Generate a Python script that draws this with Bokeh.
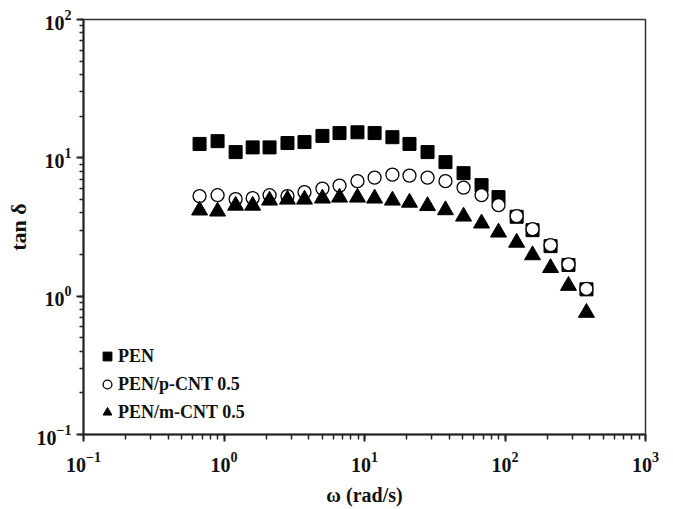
from bokeh.plotting import figure
from bokeh.models import Legend, LegendItem
from bokeh.embed import file_html
from bokeh.resources import INLINE

# angular frequency (rad/s)
omega = [0.67, 0.90, 1.21, 1.60, 2.11, 2.83, 3.74, 5.02, 6.64, 8.91, 11.8, 15.8,
         20.9, 28.1, 37.7, 50.7, 68.1, 89.9, 121, 157, 211, 283, 380]
# tan delta
pen = [12.6, 13.2, 11.0, 11.9, 11.9, 12.8, 13.0, 14.4, 15.1, 15.3, 15.1, 14.1,
       12.6, 11.0, 9.31, 7.75, 6.35, 5.20, 3.75, 3.00, 2.30, 1.68, 1.12]
pcnt = [5.29, 5.37, 5.03, 5.11, 5.37, 5.29, 5.65, 5.99, 6.30, 6.78, 7.19, 7.56,
        7.43, 7.19, 6.78, 6.09, 5.37, 4.55, 3.79, 3.05, 2.34, 1.70, 1.13]
mcnt = [4.17, 4.10, 4.52, 4.52, 4.92, 5.00, 5.00, 5.09, 5.17, 5.17, 5.09, 4.92,
        4.75, 4.49, 4.19, 3.77, 3.36, 2.89, 2.44, 1.98, 1.60, 1.19, 0.76]
labels = ["PEN", "PEN/p-CNT 0.5", "PEN/m-CNT 0.5"]

FONT = "Liberation Serif"

p = figure(width=673, height=509, x_axis_type="log", y_axis_type="log",
           x_range=(0.1, 1000), y_range=(0.1, 100),
           output_backend="svg", toolbar_location=None,
           min_border_left=83, min_border_right=28, min_border_top=19, min_border_bottom=75)
p.xgrid.visible = False
p.ygrid.visible = False
p.outline_line_color = "#333333"
p.outline_line_width = 1.5
p.background_fill_color = "white"
p.border_fill_color = "white"

for ax in p.axis:
    ax.axis_line_width = 2
    ax.axis_line_color = "#222222"
    ax.major_tick_in = 0
    ax.major_tick_out = 7
    ax.minor_tick_in = 0
    ax.minor_tick_out = 4
    ax.major_tick_line_width = 2
    ax.minor_tick_line_width = 1.5
    ax.major_tick_line_color = "#222222"
    ax.minor_tick_line_color = "#222222"
    ax.major_label_text_font = FONT
    ax.major_label_text_font_style = "bold"
    ax.major_label_text_font_size = "20px"
    ax.major_label_text_color = "#111111"
    ax.axis_label_text_font = FONT
    ax.axis_label_text_font_style = "bold"
    ax.axis_label_text_font_size = "20px"
    ax.axis_label_text_color = "#111111"
p.xaxis.major_label_standoff = 10
p.yaxis.major_label_standoff = 5
p.xaxis.minor_tick_out = 5
p.xaxis.axis_label = "ω (rad/s)"
p.yaxis.axis_label = "tan δ"
p.yaxis.axis_label_text_font_size = "22px"
p.xaxis.axis_label_standoff = 9
p.yaxis.axis_label_standoff = 3

r1 = p.scatter(omega, pen, marker="square", size=13, fill_color="black", line_color="black")
r2 = p.scatter(omega, pcnt, marker="circle", size=13, fill_color="white",
               line_color="black", line_width=1.3)
r3 = p.scatter(omega, mcnt, marker="triangle", size=16, fill_color="black", line_color="black")

legend = Legend(items=[LegendItem(label=labels[0], renderers=[r1]),
                       LegendItem(label=labels[1], renderers=[r2]),
                       LegendItem(label=labels[2], renderers=[r3])],
                location=(13, 10), padding=0, margin=0, spacing=4,
                glyph_width=22, glyph_height=24, label_standoff=0,
                label_text_font=FONT, label_text_font_style="bold",
                label_text_font_size="18px", label_text_color="#111111",
                border_line_color=None, background_fill_alpha=0)
p.add_layout(legend)

open("out.html", "w").write(file_html(p, INLINE))
